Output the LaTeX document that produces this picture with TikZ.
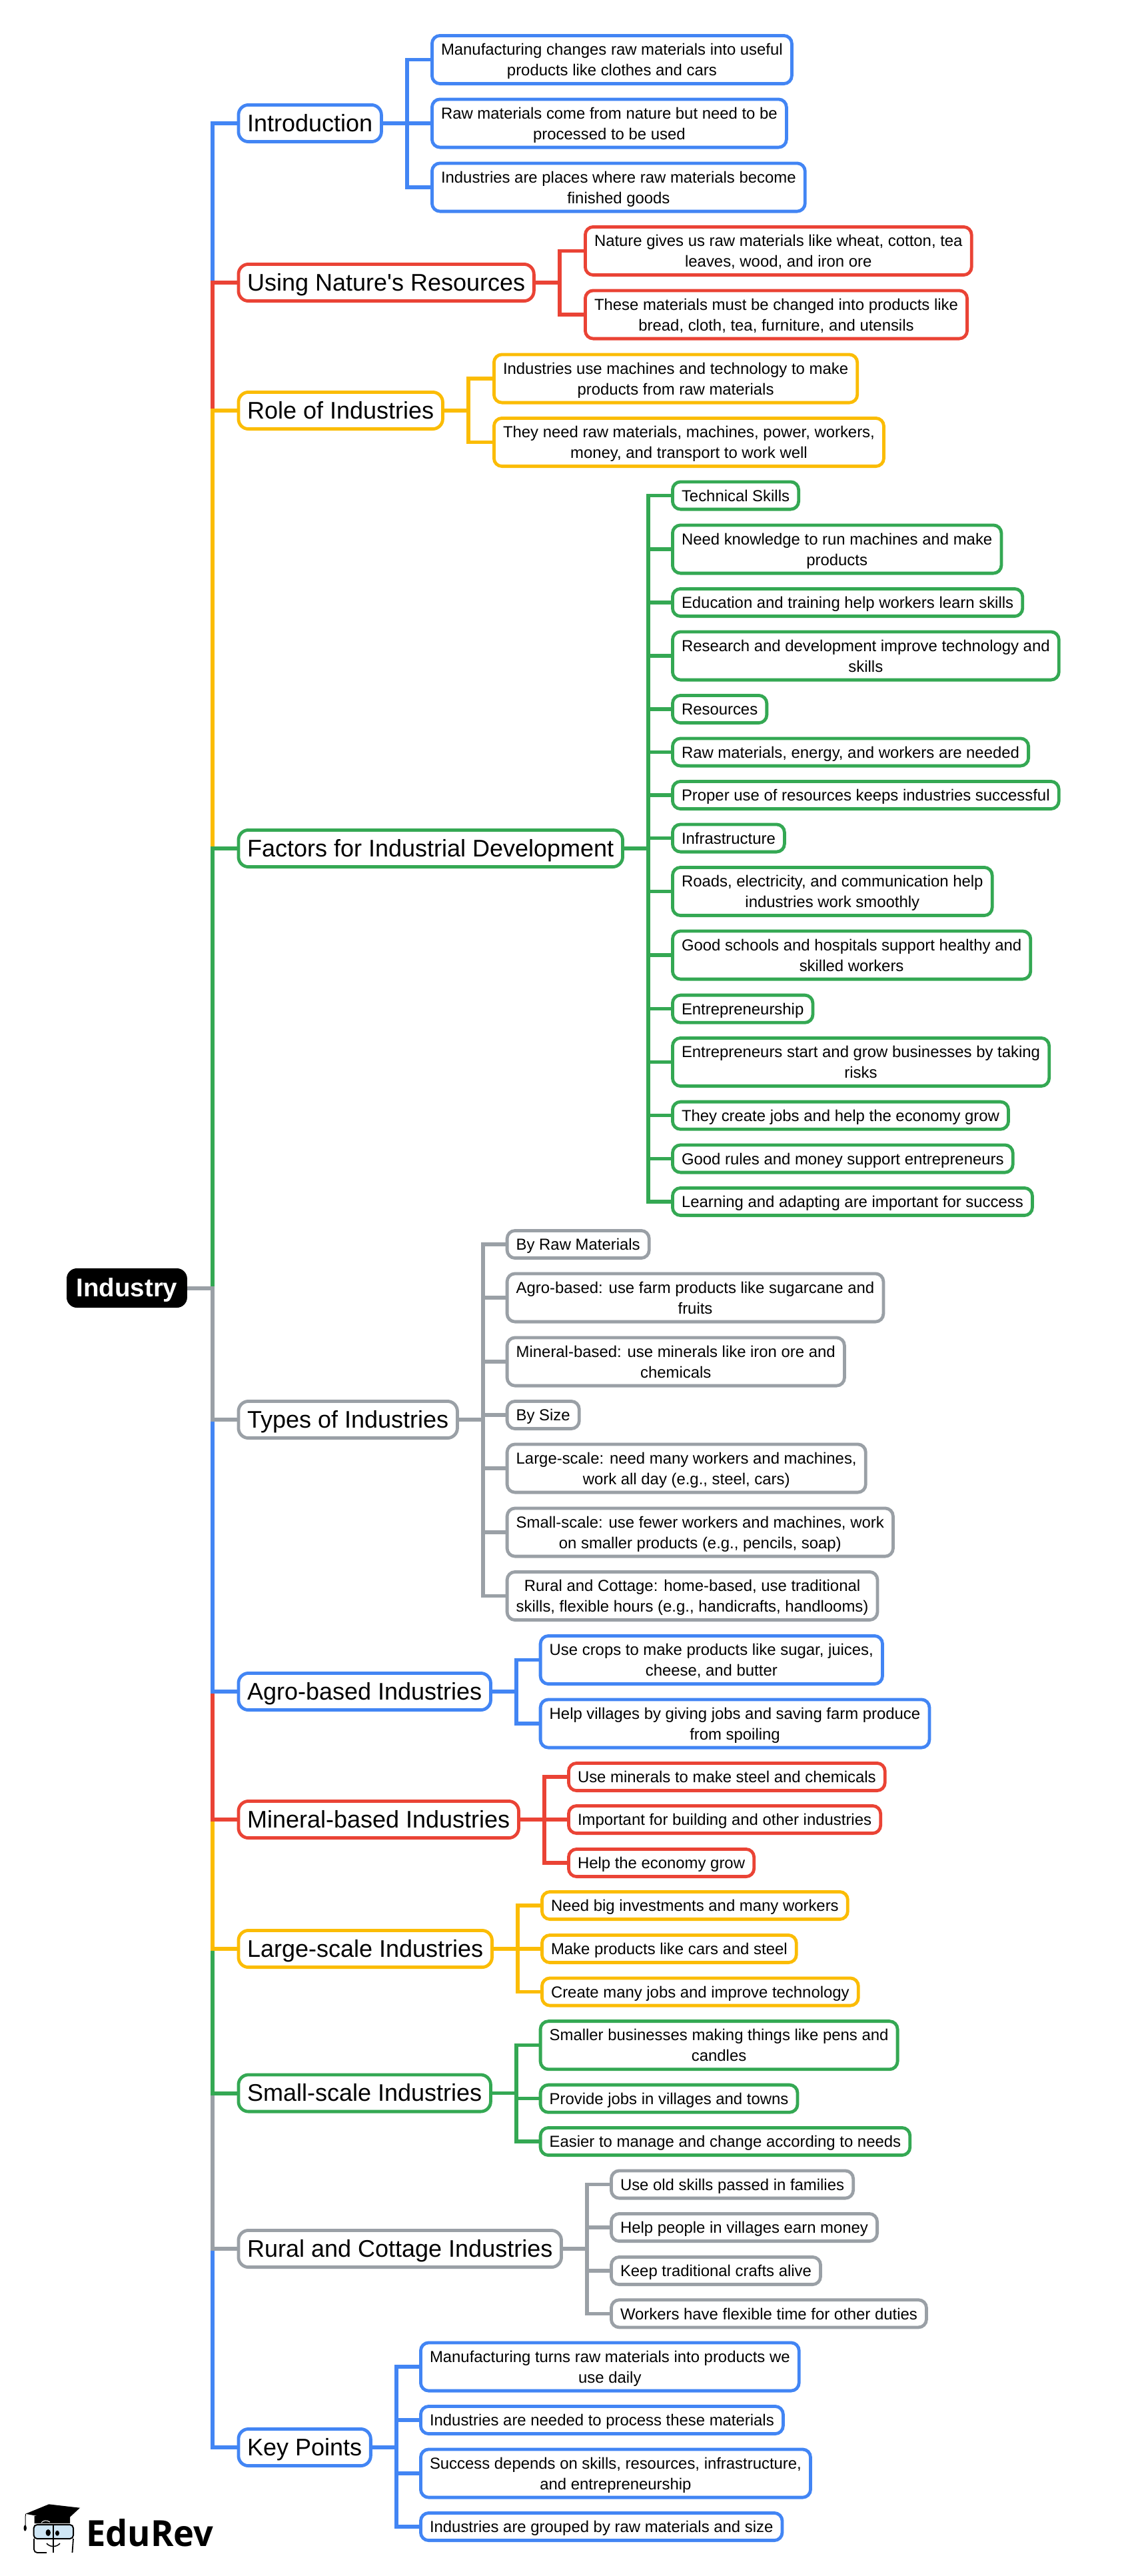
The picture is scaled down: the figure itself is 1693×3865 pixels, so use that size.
\documentclass[tikz,border=0pt]{standalone}
\usepackage{fontspec}
\usepackage{tikz}
\newfontfamily\mapfont{Liberation Sans}
\newfontfamily\logofont{Open Sans}[FakeStretch=0.97]

\definecolor{blueline}{HTML}{4285F4}
\definecolor{redline}{HTML}{EA4335}
\definecolor{yellowline}{HTML}{FBBC04}
\definecolor{greenline}{HTML}{34A853}
\definecolor{grayline}{HTML}{9AA0A6}
\definecolor{glassblue}{HTML}{CFE6F5}

% Invisible rules that fix the height of the first and the last line of a leaf
\newcommand{\lineup}{\rule{0pt}{24.2pt}}
\newcommand{\linedown}{\rule[-6.8pt]{0pt}{6.8pt}}

\tikzset{
  mainbox/.style={draw=#1, fill=white, line width=4.8pt, rounded corners=15pt, anchor=west,
    inner xsep=13.2pt, inner ysep=5.1pt, align=center,
    font=\mapfont\fontsize{36}{45}\selectfont,
    execute at begin node=\rule[-10.5pt]{0pt}{45pt}},
  leafbox/.style={draw=#1, fill=white, line width=4.8pt, rounded corners=12pt, anchor=west,
    inner xsep=13.6pt, inner ysep=5.1pt, align=center,
    font=\mapfont\fontsize{23.9}{31}\selectfont},
  branch/.style={draw=#1, line width=5.5pt},
  spine/.style={draw=#1, line width=6pt}
}

\begin{document}
\begin{tikzpicture}[x=1pt, y=-1pt]
  \useasboundingbox (0,0) rectangle (1693,3865);

  % Root
  \node[draw=black, fill=black, text=white, line width=1pt, rounded corners=15pt, anchor=west,
    inner xsep=14pt, inner ysep=6pt, font=\mapfont\bfseries\fontsize{38.5}{46}\selectfont] (root) at (100,1932.5) {\rule[-10.5pt]{0pt}{46pt}Industry};

  % Main branches
  \foreach \name/\col/\y/\txt in {intro/blueline/185/Introduction, nature/redline/424/{Using Nature's Resources},
    role/yellowline/616/{Role of Industries}, factors/greenline/1273/{Factors for Industrial Development},
    types/grayline/2130/{Types of Industries}, agro/blueline/2538/{Agro-based Industries},
    mineral/redline/2730/{Mineral-based Industries}, large/yellowline/2924/{Large-scale Industries},
    small/greenline/3140.5/{Small-scale Industries}, rural/grayline/3374/{Rural and Cottage Industries},
    key/blueline/3672/{Key Points}} {
    \node[mainbox=\col] (\name) at (355.5,\y) {\txt};
  }

  % Leaves of each branch
  \foreach \name/\y/\txt in {intro1/89.5/{Manufacturing changes raw materials into useful\\products like clothes and cars},
    intro2/185/{Raw materials come from nature but need to be\\processed to be used},
    intro3/281/{Industries are places where raw materials become\\finished goods}} {
    \node[leafbox=blueline] (\name) at (646,\y) {\lineup\txt\linedown};
    \draw[branch=blueline] (intro.east) -- ++(36,0) |- (\name.west);
  }

  \foreach \name/\y/\txt in {nature1/376.5/{Nature gives us raw materials like wheat, cotton, tea\\leaves, wood, and iron ore},
    nature2/472/{These materials must be changed into products like\\bread, cloth, tea, furniture, and utensils}} {
    \node[leafbox=redline] (\name) at (876,\y) {\lineup\txt\linedown};
    \draw[branch=redline] (nature.east) -- ++(36,0) |- (\name.west);
  }

  \foreach \name/\y/\txt in {role1/568/{Industries use machines and technology to make\\products from raw materials},
    role2/663.5/{They need raw materials, machines, power, workers,\\money, and transport to work well}} {
    \node[leafbox=yellowline] (\name) at (739,\y) {\lineup\txt\linedown};
    \draw[branch=yellowline] (role.east) -- ++(36,0) |- (\name.west);
  }

  \foreach \name/\y/\txt in {fact1/743.5/{Technical Skills}, fact2/824/{Need knowledge to run machines and make\\products},
    fact3/904/{Education and training help workers learn skills},
    fact4/984/{Research and development improve technology and\\skills},
    fact5/1064/{Resources}, fact6/1128.5/{Raw materials, energy, and workers are needed},
    fact7/1193/{Proper use of resources keeps industries successful}, fact8/1257.5/{Infrastructure},
    fact9/1337.5/{Roads, electricity, and communication help\\industries work smoothly},
    fact10/1433/{Good schools and hospitals support healthy and\\skilled workers},
    fact11/1513.7/{Entrepreneurship},
    fact12/1593.5/{Entrepreneurs start and grow businesses by taking\\risks},
    fact13/1673.7/{They create jobs and help the economy grow},
    fact14/1738.5/{Good rules and money support entrepreneurs},
    fact15/1803/{Learning and adapting are important for success}} {
    \node[leafbox=greenline] (\name) at (1007,\y) {\lineup\txt\linedown};
    \draw[branch=greenline] (factors.east) -- ++(36,0) |- (\name.west);
  }

  \foreach \name/\y/\txt in {types1/1867/{By Raw Materials},
    types2/1947/{Agro-based: use farm products like sugarcane and\\fruits},
    types3/2043/{Mineral-based: use minerals like iron ore and\\chemicals},
    types4/2123/{By Size},
    types5/2203/{Large-scale: need many workers and machines,\\work all day (e.g., steel, cars)},
    types6/2299/{Small-scale: use fewer workers and machines, work\\on smaller products (e.g., pencils, soap)},
    types7/2394.5/{Rural and Cottage: home-based, use traditional\\skills, flexible hours (e.g., handicrafts, handlooms)}} {
    \node[leafbox=grayline] (\name) at (758.7,\y) {\lineup\txt\linedown};
    \draw[branch=grayline] (types.east) -- ++(36,0) |- (\name.west);
  }

  \foreach \name/\y/\txt in {agro1/2490.5/{Use crops to make products like sugar, juices,\\cheese, and butter},
    agro2/2586/{Help villages by giving jobs and saving farm produce\\from spoiling}} {
    \node[leafbox=blueline] (\name) at (808.7,\y) {\lineup\txt\linedown};
    \draw[branch=blueline] (agro.east) -- ++(36,0) |- (\name.west);
  }

  \foreach \name/\y/\txt in {mineral1/2666/{Use minerals to make steel and chemicals},
    mineral2/2730/{Important for building and other industries},
    mineral3/2795/{Help the economy grow}} {
    \node[leafbox=redline] (\name) at (851,\y) {\lineup\txt\linedown};
    \draw[branch=redline] (mineral.east) -- ++(36,0) |- (\name.west);
  }

  \foreach \name/\y/\txt in {large1/2859/{Need big investments and many workers},
    large2/2924/{Make products like cars and steel},
    large3/2988.5/{Create many jobs and improve technology}} {
    \node[leafbox=yellowline] (\name) at (811,\y) {\lineup\txt\linedown};
    \draw[branch=yellowline] (large.east) -- ++(36,0) |- (\name.west);
  }

  \foreach \name/\y/\txt in {small1/3068.7/{Smaller businesses making things like pens and\\candles},
    small2/3148.7/{Provide jobs in villages and towns},
    small3/3213/{Easier to manage and change according to needs}} {
    \node[leafbox=greenline] (\name) at (808.7,\y) {\lineup\txt\linedown};
    \draw[branch=greenline] (small.east) -- ++(36,0) |- (\name.west);
  }

  \foreach \name/\y/\txt in {rural1/3277.5/{Use old skills passed in families},
    rural2/3342/{Help people in villages earn money},
    rural3/3407/{Keep traditional crafts alive},
    rural4/3471.3/{Workers have flexible time for other duties}} {
    \node[leafbox=grayline] (\name) at (915,\y) {\lineup\txt\linedown};
    \draw[branch=grayline] (rural.east) -- ++(36,0) |- (\name.west);
  }

  \foreach \name/\y/\txt in {key1/3551/{Manufacturing turns raw materials into products we\\use daily},
    key2/3631/{Industries are needed to process these materials},
    key3/3711/{Success depends on skills, resources, infrastructure,\\and entrepreneurship},
    key4/3791/{Industries are grouped by raw materials and size}} {
    \node[leafbox=blueline] (\name) at (629,\y) {\lineup\txt\linedown};
    \draw[branch=blueline] (key.east) -- ++(36,0) |- (\name.west);
  }

  % Spine, outermost first so that each colour covers the one before it
  \foreach \name/\col in {intro/blueline, nature/redline, role/yellowline, factors/greenline,
    key/blueline, rural/grayline, small/greenline, large/yellowline, mineral/redline, agro/blueline, types/grayline} {
    \draw[spine=\col] (root.east) -- ++(38,0) |- (\name.west);
  }

  % Logo
  \fill (38.3,3771.7) -- (73.3,3757.3) -- (120,3762.7) -- (98.3,3782.7) -- cycle;
  \fill (51.7,3775) -- (105,3776) -- (105,3786) -- (51.7,3786) -- cycle;
  \draw[white, line width=1pt] (62,3785) .. controls (66,3781) and (70,3781) .. (75,3784);
  \draw[line width=1pt] (38.3,3772) -- (38,3789);
  \fill (37.7,3793) ellipse (2.2 and 4.5);
  \draw[fill=glassblue, line width=2pt, rounded corners=5pt] (50.7,3788) rectangle (110,3809);
  \draw[line width=1.5pt] (80,3787) -- (80,3830);
  \fill (72.3,3800) ellipse (3.7 and 5);
  \fill (86,3800.7) ellipse (3 and 4);
  \draw[line width=1.8pt, rounded corners=5pt] (51,3809) -- (51,3830) -- (70,3830);
  \draw[line width=1.8pt] (110,3809) -- (108.5,3830);
  \draw[line width=1.5pt] (70,3816) .. controls (75,3822) and (85,3822) .. (90,3816);
  \node[anchor=base west, inner sep=0pt, font=\logofont\bfseries\fontsize{54}{60}\selectfont] (logo) at (129,3820) {EduRev};
\end{tikzpicture}
\end{document}
